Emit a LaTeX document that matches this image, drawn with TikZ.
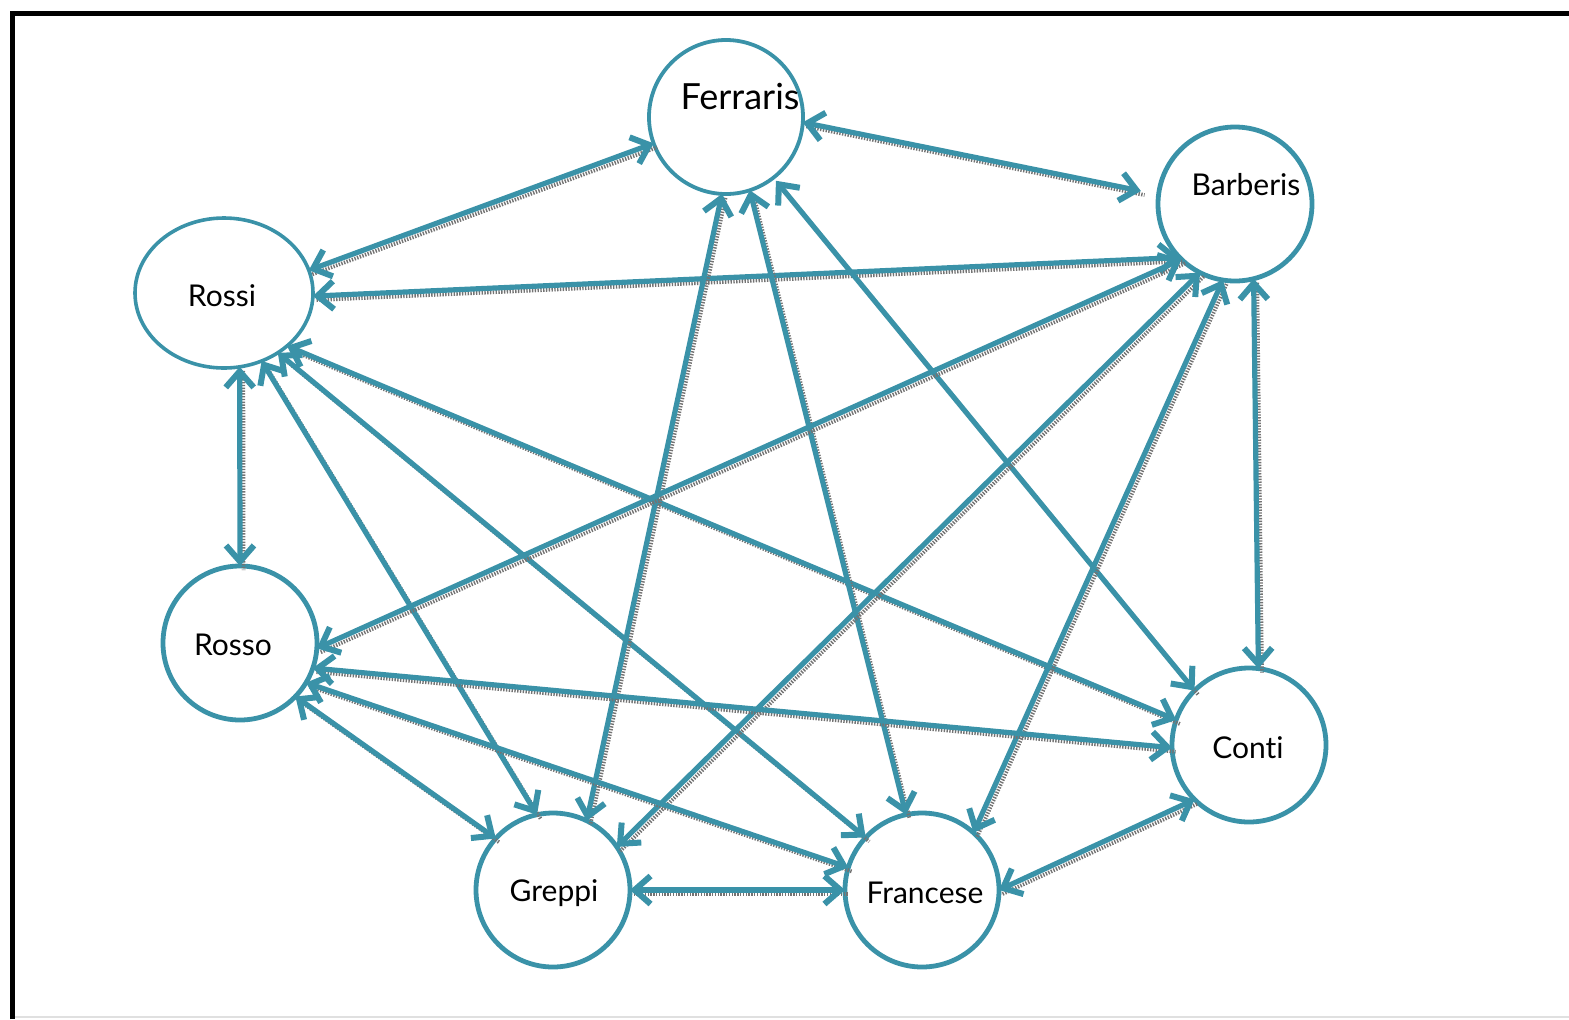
\documentclass[tikz,border=0pt]{standalone}
\usepackage{fontspec}
\setmainfont{Lato}[Ligatures=NoCommon]
\usetikzlibrary{arrows.meta,shapes.geometric}
\definecolor{teal1}{RGB}{58,146,168}
\tikzset{
  pers/.style={circle,draw=teal1,line width=2.4pt,minimum size=77pt,inner sep=0pt,outer sep=0pt},
  lbl/.style={font=\fontsize{15}{17}\selectfont,text=black},
  link/.style={draw=teal1,line width=2.6pt,
    {Straight Barb[length=8pt,width=14pt,line width=3pt]}-{Straight Barb[length=8pt,width=14pt,line width=3pt]},
    preaction={draw=black!55,line width=1.9pt,dash pattern=on 0.7pt off 0.7pt,
      transform canvas={xshift=1.8pt,yshift=-2pt},-}}
}
\begin{document}
\begin{tikzpicture}[x=0.5pt,y=-0.5pt]
\useasboundingbox (0,0) rectangle (1569,1019);
% frame
\draw[black!12,line width=0.8pt] (14,1017) -- (1569,1017);
\draw[black,line width=2.5pt] (12,1019) -- (12,13.5) -- (1569,13.5);
% nodes
\node[pers,line width=1.9pt] (ferraris) at (726,117) {};
\node[pers] (barberis) at (1235,204) {};
\node[ellipse,draw=teal1,line width=1.8pt,minimum width=89pt,minimum height=75pt,inner sep=0pt,outer sep=0pt] (rossi) at (224,293) {};
\node[pers] (rosso) at (240,643) {};
\node[pers] (conti) at (1249,745) {};
\node[pers] (greppi) at (553,890) {};
\node[pers] (francese) at (922,890) {};
% labels
\node[lbl,font=\fontsize{18}{20}\selectfont] (tferraris) at (740,97) {Ferraris};
\node[lbl] (tbarberis) at (1246,185) {Barberis};
\node[lbl] (trossi) at (222,296) {Rossi};
\node[lbl] (trosso) at (233,645) {Rosso};
\node[lbl] (tconti) at (1248,748) {Conti};
\node[lbl] (tgreppi) at (554,893) {Greppi};
\node[lbl] (tfrancese) at (925,893) {Francese};
% connectors
\draw[link] (rossi.15) -- (ferraris.200);
\draw[link,shorten >=9pt] (ferraris.356) -- (barberis.173);
\draw[link] (rossi.358) -- (barberis.224);
\draw[link] (rossi.282) -- (rosso.90);
\draw[link] (rossi.320) -- (conti.161);
\draw[link] (rossi.299) -- (greppi.102);
\draw[link] (rossi.312) -- (francese.137);
\draw[link] (ferraris.267) -- (greppi.64);
\draw[link] (ferraris.288) -- (francese.102);
\draw[link,shorten <=2pt] (ferraris.308) -- (conti.135);
\draw[link] (barberis.226) -- (rosso.356);
\draw[link] (barberis.243) -- (greppi.34);
\draw[link] (barberis.261) -- (francese.48);
\draw[link] (barberis.284) -- (conti.83);
\draw[link] (rosso.341) -- (conti.182);
\draw[link] (rosso.316) -- (greppi.138);
\draw[link] (rosso.329) -- (francese.163);
\draw[link] (greppi.0) -- (francese.180);
\draw[link] (francese.0) -- (conti.225);
\end{tikzpicture}
\end{document}
